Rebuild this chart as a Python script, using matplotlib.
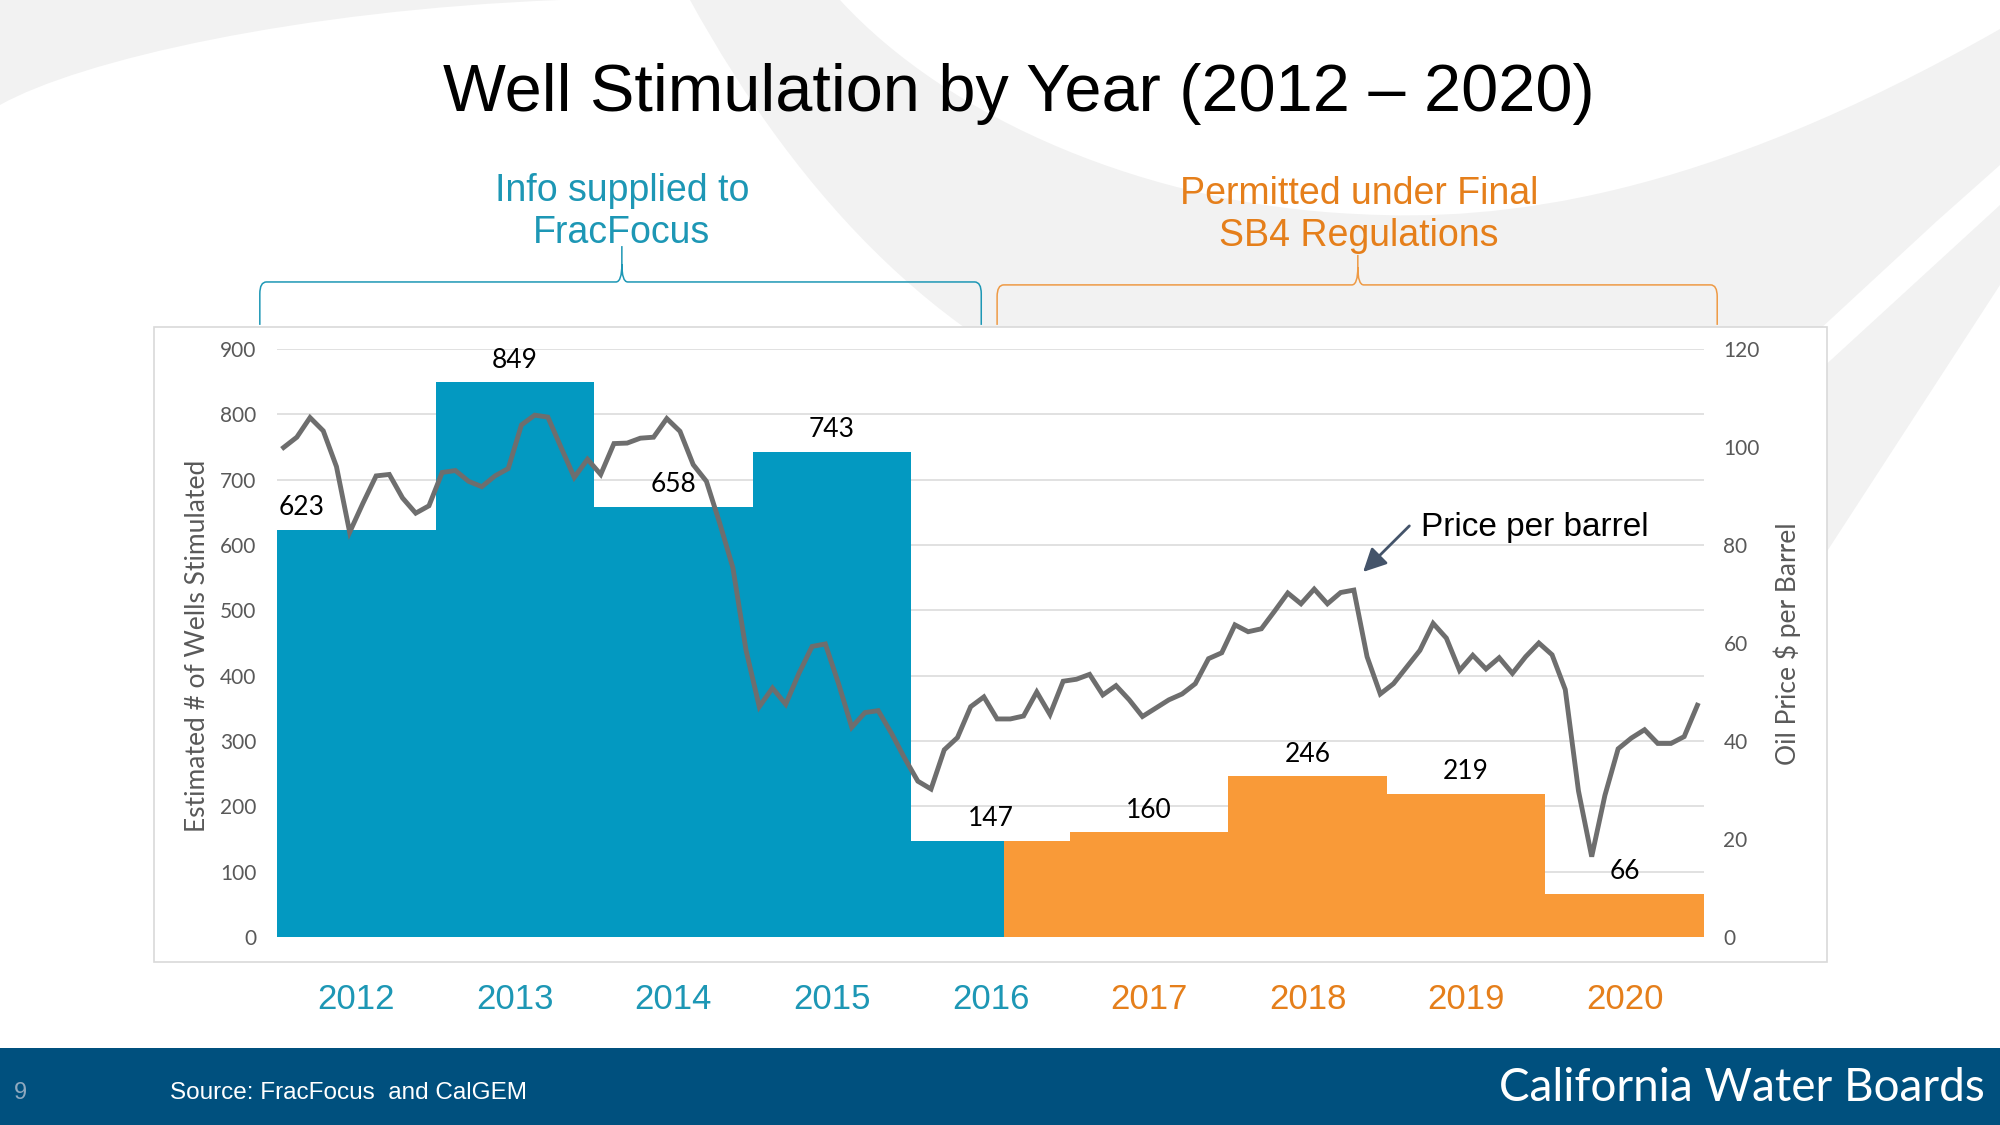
import numpy as np
import matplotlib
matplotlib.use("Agg")
import matplotlib.pyplot as plt
from matplotlib.patches import Rectangle, PathPatch
from matplotlib.path import Path
from matplotlib.transforms import blended_transform_factory

# data
years = ["2012", "2013", "2014", "2015", "2016", "2017", "2018", "2019", "2020"]
wells = [623, 849, 658, 743, 147, 160, 246, 219, 66]
# months (from Jan 2012) reported to FracFocus before the final SB4 rules
fracfocus_months = 55

# monthly oil price, $ per barrel, Jan 2012 .. Dec 2020
oil_price = [
    99.9, 102.0, 106.0, 103.3, 96.0, 82.6, 88.5, 94.1, 94.4, 89.6, 86.5, 88.0,
    94.8, 95.2, 93.0, 91.9, 94.1, 95.6, 104.5, 106.5, 106.1, 99.9, 93.8, 97.5,
    94.4, 100.7, 100.8, 101.8, 102.0, 105.8, 103.2, 96.4, 93.0, 84.5, 75.4, 58.5,
    47.0, 50.8, 47.5, 53.8, 59.3, 59.8, 51.7, 42.8, 45.8, 46.2, 41.6, 36.5,
    31.8, 30.2, 38.2, 40.7, 47.0, 49.0, 44.5, 44.5, 45.1, 50.0, 45.4, 52.2,
    52.6, 53.6, 49.4, 51.3, 48.4, 45.0, 46.7, 48.4, 49.6, 51.7, 56.8, 58.0,
    63.7, 62.3, 62.9, 66.5, 70.2, 68.0, 71.0, 68.0, 70.3, 70.8, 57.2, 49.6,
    51.7, 55.1, 58.5, 64.0, 61.0, 54.4, 57.5, 54.7, 57.0, 53.8, 57.2, 60.0,
    57.6, 50.5, 29.8, 16.4, 28.9, 38.4, 40.6, 42.3, 39.5, 39.5, 40.9, 47.3,
]

BLUE = "#0399C1"
ORANGE = "#F99A38"
TEAL_TXT = "#1D97B5"
ORANGE_TXT = "#E57F1B"
SWOOSH = "#F2F2F2"

W, H = 2000, 1125
fig = plt.figure(figsize=(20, 11.25), dpi=100)
fig.patch.set_facecolor("white")


def px(x, y):
    return (x / W, 1 - y / H)


def fig_path(points, codes, color, z):
    verts = [px(x, y) for x, y in points]
    p = PathPatch(Path(verts, codes), facecolor=color, edgecolor="none",
                  transform=fig.transFigure, zorder=z)
    fig.patches.append(p)


# background swooshes
M, L, C4, CL = Path.MOVETO, Path.LINETO, Path.CURVE4, Path.CLOSEPOLY
fig_path([(0, 0), (560, 0), (300, 10), (80, 60), (0, 105), (0, 0)],
         [M, L, C4, C4, C4, CL], SWOOSH, -3)
fig_path([(690, 0), (800, 200), (950, 360), (1150, 420), (1700, 440),
          (1937, 221), (2000, 165), (2000, 29),
          (1700, 200), (1500, 222), (1357, 214),
          (1150, 205), (950, 120), (840, 0), (690, 0)],
         [M, C4, C4, C4, L, L, L, L, C4, C4, C4, C4, C4, C4, CL], SWOOSH, -3)
fig_path([(2000, 205), (1700, 480), (1700, 747), (2000, 285), (2000, 205)],
         [M, L, L, L, CL], SWOOSH, -3)

# chart panel
fig.patches.append(Rectangle(px(154, 962), (1827 - 154) / W, (962 - 327) / H,
                             transform=fig.transFigure, facecolor="white",
                             edgecolor="#D9D9D9", lw=1.2, zorder=-1))

# footer
fig.patches.append(Rectangle((0, 0), 1, (H - 1048) / H, transform=fig.transFigure,
                             facecolor="#00507E", edgecolor="none", zorder=1))
fig.text(20 / W, 1 - 1093 / H, "9", color="#8FA9BF", fontsize=17,
         family="Liberation Sans", va="center", ha="center", zorder=2)
fig.text(170 / W, 1 - 1093 / H, "Source: FracFocus  and CalGEM", color="white",
         fontsize=17.5, family="Liberation Sans", va="center", ha="left", zorder=2)
fig.text(1985 / W, 1 - 1088 / H, "California Water Boards", color="white",
         fontsize=33, family="Lato", va="center", ha="right", zorder=2)

# title
fig.text(1019 / W, 1 - 111 / H, "Well Stimulation by Year (2012 \u2013 2020)",
         fontsize=48, family="Liberation Sans", ha="center", va="baseline")

# axes
ax = fig.add_axes([277 / W, 1 - 937 / H, (1704 - 277) / W, (937 - 349) / H])
ax.set_facecolor("none")
n = len(years)
lefts = np.arange(n) * 12
for i, (left, val) in enumerate(zip(lefts, wells)):
    right = left + 12
    if left < fracfocus_months:
        ax.bar(left, val, width=min(right, fracfocus_months) - left, align="edge",
               color=BLUE, linewidth=0, zorder=2)
    if right > fracfocus_months:
        start = max(left, fracfocus_months)
        ax.bar(start, val, width=right - start, align="edge",
               color=ORANGE, linewidth=0, zorder=2)
    if i == 0:
        ax.annotate(str(val), (left + 0.1, val), xytext=(0, 7), textcoords="offset points",
                    ha="left", va="bottom", fontsize=19, family="Lato", zorder=5)
    else:
        ax.annotate(str(val), (left + 6, val), xytext=(0, 7), textcoords="offset points",
                    ha="center", va="bottom", fontsize=19, family="Lato", zorder=5)

ax.set_xlim(0, 12 * n)
ax.set_ylim(0, 900)
ax.set_yticks(np.arange(0, 901, 100))
ax.yaxis.grid(True, color="#D9D9D9", lw=1.1)
ax.set_axisbelow(True)
ax.set_xticks(lefts + 6)
ax.set_xticklabels(years, fontsize=25, family="Liberation Sans")
for i, t in enumerate(ax.get_xticklabels()):
    t.set_color(TEAL_TXT if lefts[i] < fracfocus_months - 6 else ORANGE_TXT)
ax.tick_params(axis="x", length=0, pad=33)
ax.tick_params(axis="y", length=0, pad=15, labelsize=15, labelcolor="#595959")
for lab in ax.get_yticklabels():
    lab.set_family("Lato")
for s in ax.spines.values():
    s.set_visible(False)
ax.set_ylabel("Estimated # of Wells Stimulated", fontsize=19, family="Lato",
              color="#595959")
ax.yaxis.set_label_coords(-0.047, 0.495)

ax2 = ax.twinx()
months = np.arange(len(oil_price)) + 0.5
ax2.plot(months, oil_price, color="#6E6E6E", lw=3.5, solid_joinstyle="miter", zorder=3)
ax2.set_ylim(0, 120)
ax2.set_yticks(np.arange(0, 121, 20))
ax2.tick_params(axis="y", length=0, pad=14, labelsize=15, labelcolor="#595959")
for lab in ax2.get_yticklabels():
    lab.set_family("Lato")
for s in ax2.spines.values():
    s.set_visible(False)
ax2.set_ylabel("Oil Price $ per Barrel", fontsize=19, family="Lato", color="#595959",
               rotation=90)
ax2.yaxis.set_label_coords(1.049, 0.498)

ax2.annotate("", xy=(82.2, 74.5), xytext=(85.7, 83.9),
             arrowprops=dict(arrowstyle="-|>,head_length=0.7,head_width=0.35",
                             color="#44546A", lw=2, mutation_scale=20,
                             shrinkA=0, shrinkB=0))
ax2.text(86.6, 83.6, "Price per barrel", fontsize=24, family="Liberation Sans",
         ha="left", va="center")


# braces above the chart
def brace(x0, x1, xm, y_line, y_end, y_tip, color):
    trans = blended_transform_factory(ax.transData, ax.transAxes)
    rx, ry = 0.5, 0.02
    tx, ty = 0.45, 0.03
    C3 = Path.CURVE3
    verts = [(x0, y_end), (x0, y_line - ry), (x0, y_line), (x0 + rx, y_line),
             (xm - tx, y_line), (xm, y_line), (xm, y_line + ty), (xm, y_tip),
             (x1, y_end), (x1, y_line - ry), (x1, y_line), (x1 - rx, y_line),
             (xm + tx, y_line), (xm, y_line), (xm, y_line + ty)]
    codes = [M, L, C3, C3, L, C3, C3, L, M, L, C3, C3, L, C3, C3]
    ax.add_patch(PathPatch(Path(verts, codes), facecolor="none", edgecolor=color,
                           lw=1.1, transform=trans, clip_on=False))


brace(-1.3, 53.3, 26.1, 1.114, 1.041, 1.175, TEAL_TXT)
brace(54.5, 109.0, 81.8, 1.109, 1.041, 1.160, "#EE9A45")

# multi-line text: baseline anchors the last line
fig.text(622 / W, 1 - 243 / H, "Info supplied to\nFracFocus", color=TEAL_TXT,
         fontsize=27, family="Liberation Sans", ha="center", va="baseline",
         linespacing=1.22)
fig.text(1359 / W, 1 - 246 / H, "Permitted under Final\nSB4 Regulations",
         color=ORANGE_TXT, fontsize=27, family="Liberation Sans", ha="center",
         va="baseline", linespacing=1.22)

fig.savefig("out.png", dpi=100)
